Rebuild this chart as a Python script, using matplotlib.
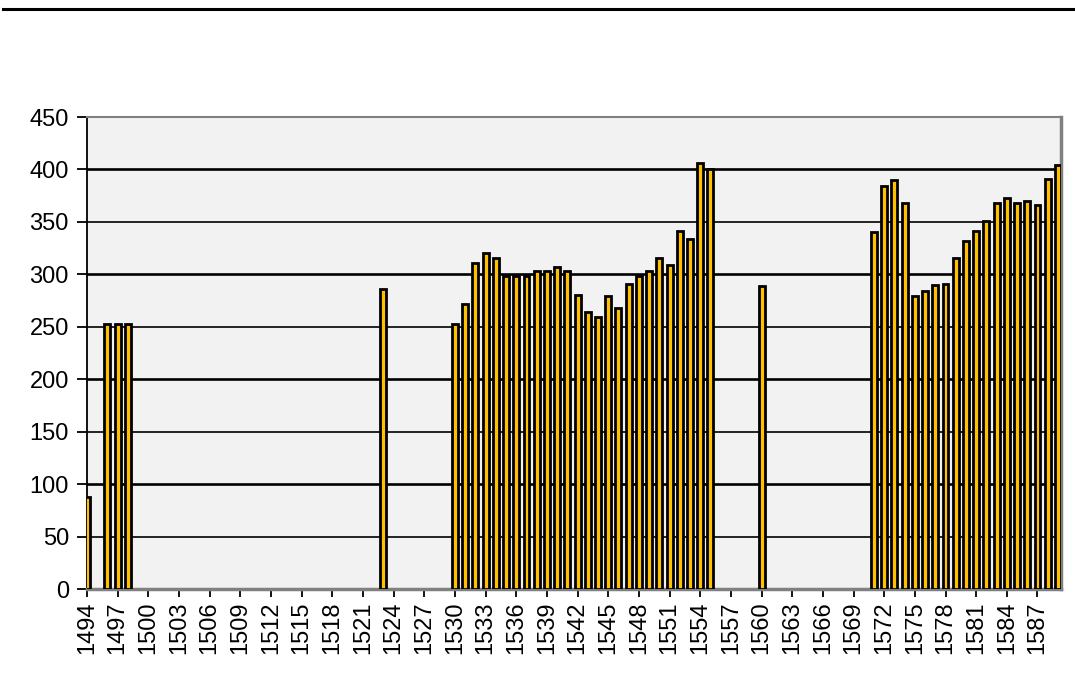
import matplotlib.pyplot as plt
from matplotlib.lines import Line2D

plt.rcParams['font.family'] = ['Liberation Sans', 'DejaVu Sans']

# yearly values (missing years have no bar)
years = [1494, 1496, 1497, 1498, 1523,
         1530, 1531, 1532, 1533, 1534, 1535, 1536, 1537, 1538, 1539,
         1540, 1541, 1542, 1543, 1544, 1545, 1546, 1547, 1548, 1549,
         1550, 1551, 1552, 1553, 1554, 1555, 1560,
         1571, 1572, 1573, 1574, 1575, 1576, 1577, 1578, 1579,
         1580, 1581, 1582, 1583, 1584, 1585, 1586, 1587, 1588, 1589]
values = [88, 253, 253, 253, 286,
          253, 272, 311, 320, 316, 298, 298, 298, 303, 303,
          307, 303, 280, 264, 259, 279, 268, 291, 298, 303,
          316, 309, 341, 334, 406, 400, 289,
          340, 384, 390, 368, 279, 284, 290, 291, 316,
          332, 341, 351, 368, 373, 368, 370, 366, 391, 404]
tick_years = list(range(1494, 1590, 3))

fig = plt.figure(figsize=(10.75, 6.75), dpi=100)
ax = fig.add_axes([87 / 1075, 1 - 589 / 675, (1061 - 87) / 1075, (589 - 117) / 675])
ax.set_facecolor('#F2F2F2')

# grid lines: heavier at each hundred
for v in range(50, 451, 50):
    lw = 1.9 if v % 100 == 0 else 1.2
    ax.axhline(v, color='black', lw=lw, zorder=1)

ax.bar(years, values, width=0.58, color='#FFC000', edgecolor='black',
       linewidth=2.0, zorder=3)

ax.set_xlim(1494, 1589.3)
ax.set_ylim(0, 450)
ax.set_yticks(range(0, 451, 50))
ax.set_xticks(tick_years)
ax.set_xticklabels([str(y) for y in tick_years], rotation=90)
ax.tick_params(axis='both', labelsize=17, direction='out', length=6,
               width=1.3, color='black')
ax.tick_params(axis='x', pad=3)
ax.tick_params(axis='y', pad=6, length=7)

for side in ['top', 'right', 'bottom']:
    ax.spines[side].set_color('#808080')
    ax.spines[side].set_linewidth(1.5)
ax.spines['left'].set_color('black')
ax.spines['left'].set_linewidth(1.3)
ax.spines['right'].set_linewidth(2.5)
ax.spines['bottom'].set_linewidth(2.5)

# rule across the top of the page
fig.add_artist(Line2D([3 / 1075, 1.0], [1 - 9 / 675, 1 - 9 / 675],
                      color='black', lw=2.2))

fig.savefig('out.png', dpi=100)
